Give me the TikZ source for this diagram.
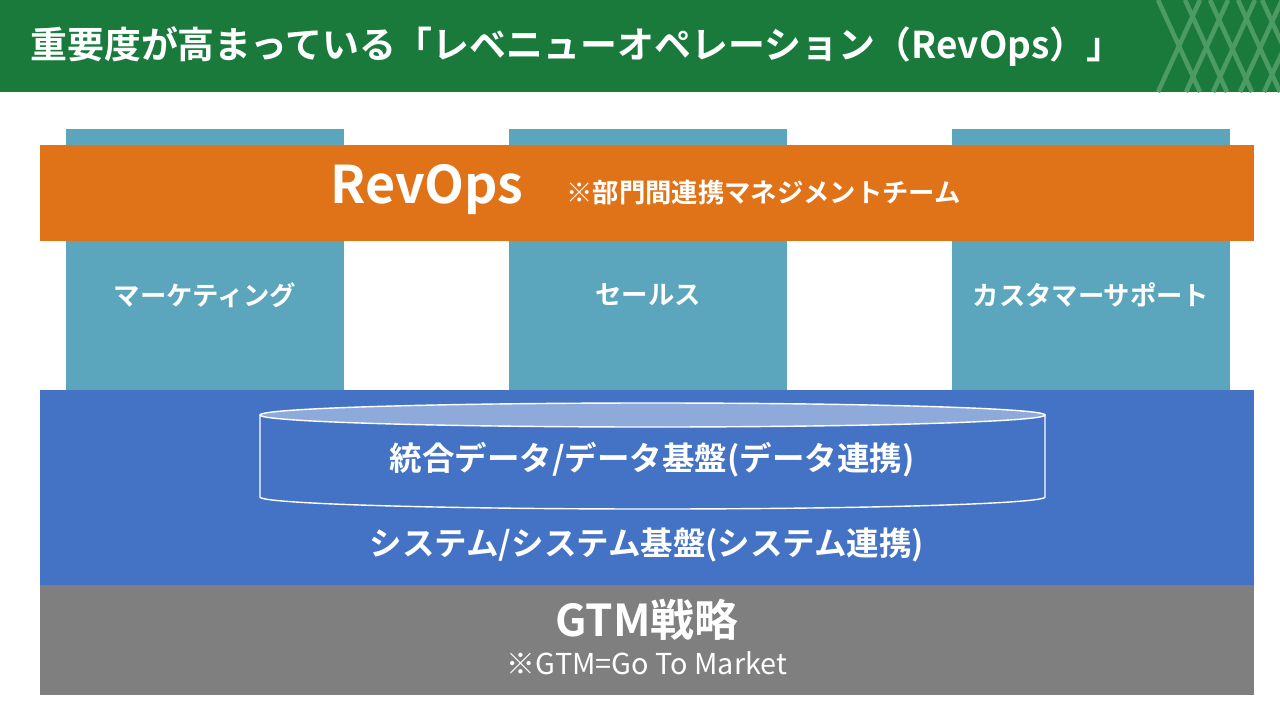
\documentclass[tikz,border=0pt]{standalone}
\usepackage{fontspec}
\setmainfont{Noto Sans CJK JP}[BoldFont={Noto Sans CJK JP Bold}]
\usetikzlibrary{shapes.geometric,positioning}
\definecolor{hdr}{RGB}{26,122,60}
\definecolor{lattice}{RGB}{76,154,100}
\definecolor{teal}{RGB}{91,165,189}
\definecolor{revops}{RGB}{224,115,24}
\definecolor{base}{RGB}{68,114,196}
\definecolor{cyltop}{RGB}{142,170,219}
\definecolor{gtm}{RGB}{127,127,127}
\tikzset{
  dept/.style={fill=teal, draw=none, minimum width=278*0.02cm, minimum height=261*0.02cm, inner sep=0pt},
  wlabel/.style={text=white, font=\bfseries\fontsize{15}{17}\selectfont},
  blabel/.style={text=white, font=\bfseries\fontsize{18.5}{21}\selectfont}
}
\begin{document}
\begin{tikzpicture}[x=0.02cm, y=-0.02cm]
    \useasboundingbox (0,0) rectangle (1280,720);
    % header
    \fill [hdr] (0,0) rectangle (1280,92);
    \begin{scope}
      \clip (1150,0) rectangle (1280,92);
      \foreach \s in {1158,1185,1210,1238,1262}
        \draw [lattice, line width=2.6pt] (\s,0) -- (\s+42,92);
      \foreach \s in {1200,1228,1255,1282,1306}
        \draw [lattice, line width=2.6pt] (\s,0) -- (\s-42,92);
    \end{scope}
    \node [anchor=west, text=white, font=\bfseries\fontsize{21}{24}\selectfont, inner sep=0pt] (title) at (30,46) {重要度が高まっている「レベニューオペレーション（RevOps）」};

    % departments
    \node [dept, anchor=north west] (mkt) at (66,129) {};
    \node [dept, anchor=north west] (sales) at (509,129) {};
    \node [dept, anchor=north west] (cs) at (952,129) {};
    \node [wlabel] (mktlbl) at (205,295) {マーケティング};
    \node [wlabel] (saleslbl) at (648,295) {セールス};
    \node [wlabel] (cslbl) at (1091,295) {カスタマーサポート};

    % RevOps band
    \fill [revops] (40,145) rectangle (1254,241);
    \node [text=white, font=\bfseries\fontsize{29.5}{33}\selectfont] (revlbl) at (427,190) {RevOps};
    \node [wlabel, anchor=west, inner sep=0pt] (revnote) at (566,193) {※部門間連携マネジメントチーム};

    % system base
    \fill [base] (40,390) rectangle (1254,585);
    \draw [white, fill=base, line width=0.8pt] (260,415) -- (260,497) arc[start angle=180, end angle=0, x radius=392.5, y radius=12] -- (1045,415);
    \draw [white, fill=cyltop, line width=0.8pt] (652.5,415) ellipse [x radius=392.5, y radius=12];
    \node [blabel] (datalbl) at (652,460) {統合データ/データ基盤(データ連携)};
    \node [blabel] (syslbl) at (647,545) {システム/システム基盤(システム連携)};

    % GTM
    \fill [gtm] (40,585) rectangle (1254,695);
    \node [text=white, font=\bfseries\fontsize{25}{28}\selectfont] (gtmlbl) at (647,620) {GTM戦略};
    \node [text=white, font=\fontsize{16.4}{19}\selectfont] (gtmnote) at (647,663) {※GTM=Go To Market};
\end{tikzpicture}
\end{document}
